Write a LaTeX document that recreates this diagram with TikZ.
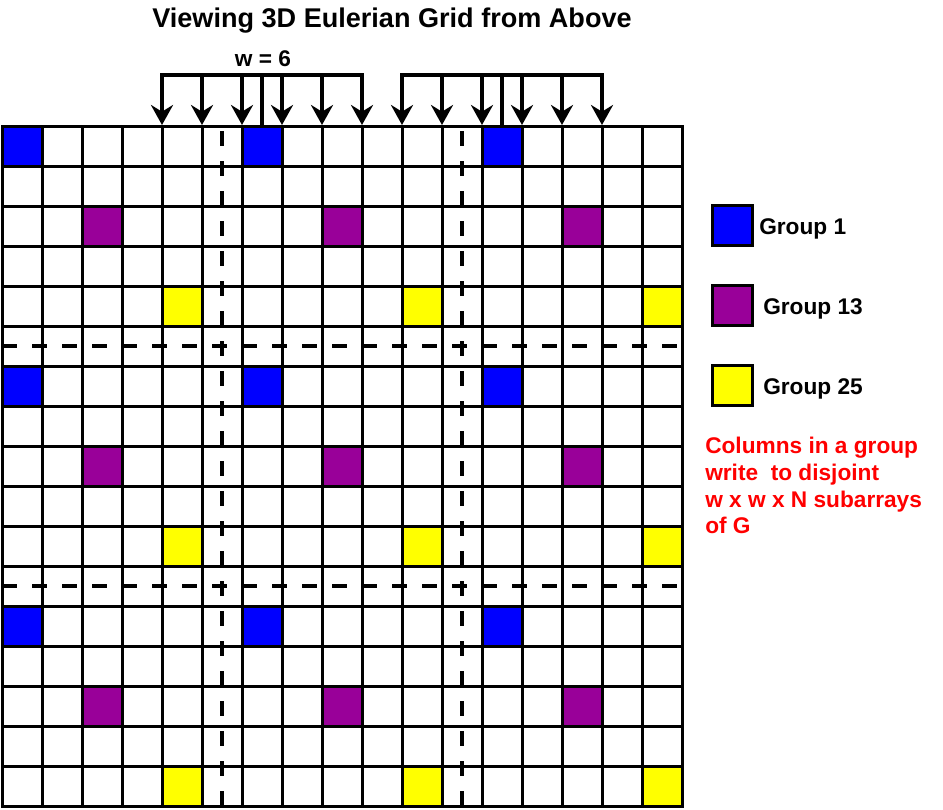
\documentclass[tikz,border=0pt]{standalone}
\usepackage{fontspec}
\setmainfont{Liberation Sans}
\usetikzlibrary{arrows.meta}
\definecolor{gblue}{HTML}{0000FF}
\definecolor{gpurple}{HTML}{990099}
\definecolor{gyellow}{HTML}{FFFF00}
\definecolor{gred}{HTML}{FF0000}
\begin{document}
\begin{tikzpicture}[x=0.75pt,y=-0.75pt,
  gridline/.style={line width=2.25pt},
  dashline/.style={line width=3.2pt, dash pattern=on 11.25pt off 11.25pt},
  arrowline/.style={line width=3pt},
  tipdown/.style={-{Stealth[length=15pt,width=16.5pt,inset=5pt]}},
  lbl/.style={font=\bfseries\fontsize{17}{20}\selectfont, inner sep=0pt},
  ttl/.style={font=\bfseries\fontsize{20.3}{24}\selectfont, inner sep=0pt},
]
\useasboundingbox (0,0) rectangle (943,810);
\fill[white] (0,0) rectangle (943,810);

% coloured cells
\foreach \c in {0,6,12} \foreach \r in {0,6,12}
  \fill[gblue] ({2+40*\c},{126+40*\r}) rectangle +(40,40);
\foreach \c in {2,8,14} \foreach \r in {2,8,14}
  \fill[gpurple] ({2+40*\c},{126+40*\r}) rectangle +(40,40);
\foreach \c in {4,10,16} \foreach \r in {4,10,16}
  \fill[gyellow] ({2+40*\c},{126+40*\r}) rectangle +(40,40);

% grid
\foreach \i in {1,...,16} {
  \draw[gridline] ({2+40*\i},126) -- ({2+40*\i},806);
  \draw[gridline] (2,{126+40*\i}) -- (682,{126+40*\i});
}
\draw[gridline] (2,126) rectangle (682,806);

% dashed partitions
\draw[dashline] (2,346) -- (682,346);
\draw[dashline] (2,586) -- (682,586);
\draw[dashline] (222,131) -- (222,806);
\draw[dashline] (462,131) -- (462,806);

% arrows, group 1
\draw[arrowline, line cap=rect] (162,75) -- (362,75);
\foreach \x in {162,202,242,282,322,362}
  \draw[arrowline, tipdown] (\x,75) -- (\x,125);
\draw[arrowline] (262,75) -- (262,126);
% arrows, group 2
\draw[arrowline, line cap=rect] (402,75) -- (602,75);
\foreach \x in {402,442,482,522,562,602}
  \draw[arrowline, tipdown] (\x,75) -- (\x,125);
\draw[arrowline] (502,75) -- (502,126);

% legend
\draw[gridline, fill=gblue] (712,205) rectangle (752,245);
\draw[gridline, fill=gpurple] (712,285) rectangle (752,325);
\draw[gridline, fill=gyellow] (712,365) rectangle (752,405);
\node[lbl, anchor=base west] (g1) at (759,234) {Group 1};
\node[lbl, anchor=base west] (g13) at (763,314) {Group 13};
\node[lbl, anchor=base west] (g25) at (763,394) {Group 25};

% texts
\node[ttl, anchor=base] (title) at (392,27) {Viewing 3D Eulerian Grid from Above};
\node[lbl, anchor=base] (wlab) at (263,66) {w = 6};
\node[lbl, text=gred, anchor=base west] (r1) at (705,453) {Columns in a group};
\node[lbl, text=gred, anchor=base west] (r2) at (705,480) {write\ \ to disjoint};
\node[lbl, text=gred, anchor=base west] (r3) at (705,507) {w x w x N subarrays};
\node[lbl, text=gred, anchor=base west] (r4) at (705,533) {of G};
\end{tikzpicture}
\end{document}
